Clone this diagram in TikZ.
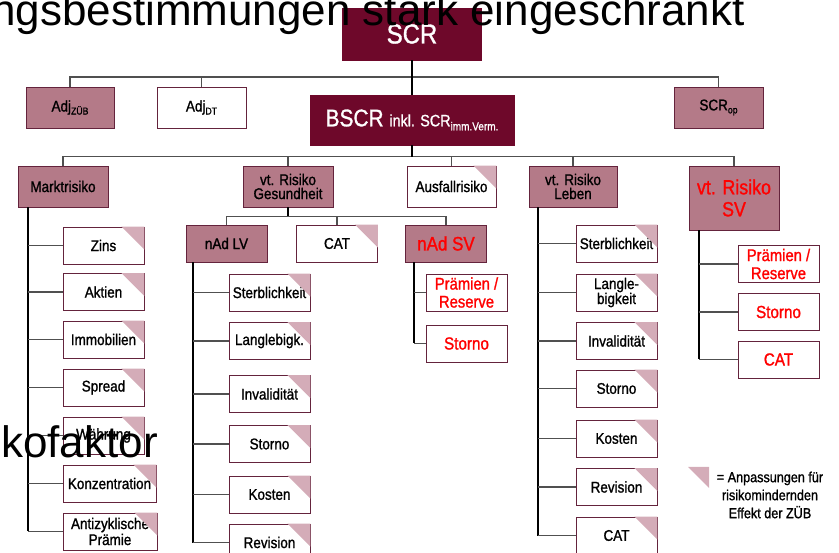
\documentclass[tikz,border=0pt]{standalone}
\usepackage{fontspec}
\setmainfont{Liberation Sans}[FakeStretch=0.87, FakeBold=1.2]
\newfontfamily\slidefont{Liberation Sans}

\definecolor{scrdark}{RGB}{110,8,42}
\definecolor{mauve}{RGB}{180,122,136}
\definecolor{cornerpink}{RGB}{212,172,184}
\definecolor{boxline}{RGB}{100,35,60}
\definecolor{linegray}{RGB}{80,80,80}

\tikzset{
  risk/.style={draw=boxline, line width=0.8pt, inner sep=0pt, align=center,
    minimum width=81pt, minimum height=37pt, font=\fontsize{15.5}{14}\selectfont},
  darkbox/.style={risk, fill=scrdark, draw=scrdark, text=white},
  mauvebox/.style={risk, fill=mauve},
  whitebox/.style={risk, fill=white},
  redtext/.style={text=red},
  trunk/.style={line width=1.8pt, black},
  branch/.style={line width=1.2pt, linegray},
  cornertri/.style={fill=cornerpink},
}

\begin{document}
\begin{tikzpicture}[x=1pt,y=1pt,yscale=-1]
\useasboundingbox (0,0) rectangle (839,553);
\clip (0,0) rectangle (839,553);

% top
\node[darkbox, minimum width=139pt, minimum height=52pt, font=\fontsize{27.5}{28}\selectfont] (scr) at (412,34) {SCR};
\node[mauvebox, minimum width=88pt, minimum height=41pt] (adjz) at (70,107.5) {Adj\raisebox{-3pt}{\fontsize{10}{10}\selectfont ZÜB}};
\node[whitebox, minimum width=89pt, minimum height=41pt] (adjdt) at (201.5,107.5) {Adj\raisebox{-3pt}{\fontsize{10}{10}\selectfont DT}};
\node[darkbox, minimum width=204pt, minimum height=50pt] (bscr) at (412,120) {\fontsize{24}{24}\selectfont BSCR \fontsize{16.5}{17}\selectfont inkl. SCR\raisebox{-4pt}{\fontsize{11.5}{12}\selectfont imm.Verm.}};
\node[mauvebox, minimum width=89pt, minimum height=41pt] (scrop) at (718.5,107.5) {SCR\raisebox{-3pt}{\fontsize{10}{10}\selectfont op}};

% risk modules
\node[mauvebox, minimum width=90pt, minimum height=41pt] (markt) at (63,186.5) {Marktrisiko};
\node[mauvebox, minimum width=90pt, minimum height=41pt] (gesund) at (288,186.5) {vt. Risiko\\Gesundheit};
\node[whitebox, minimum width=89pt, minimum height=41pt] (ausfall) at (451.5,186.5) {Ausfallrisiko};
\node[mauvebox, minimum width=88pt, minimum height=41pt] (leben) at (573,186.5) {vt. Risiko\\Leben};
\node[mauvebox, redtext, minimum width=90pt, minimum height=64pt, font=\fontsize{20.5}{22}\selectfont] (sv) at (734,198) {vt. Risiko\\SV};

% Gesundheit
\node[mauvebox] (nadlv) at (226.5,243.5) {nAd LV};
\node[whitebox] (catg) at (337,243.5) {CAT};
\node[mauvebox, redtext, font=\fontsize{19.5}{18}\selectfont] (nadsv) at (446,243.5) {nAd SV};

% Marktrisiko
\node[whitebox] (zins) at (103.5,245.5) {Zins};
\node[whitebox] (aktien) at (103.5,292) {Aktien};
\node[whitebox] (immo) at (103.5,339.5) {Immobilien};
\node[whitebox] (spread) at (103.5,387.5) {Spread};
\node[whitebox] (waehrung) at (103.5,435.5) {Währung};
\node[whitebox, minimum width=93pt] (konz) at (109.5,483.5) {Konzentration};
\node[whitebox, minimum width=94pt, font=\fontsize{15.5}{16}\selectfont] (antiz) at (110,531.5) {Antizyklische\\Prämie};

% nAd LV
\node[whitebox] (sterbg) at (269.5,292.5) {Sterblichkeit};
\node[whitebox] (langg) at (269.5,341) {Langlebigk.};
\node[whitebox] (invg) at (269.5,394) {Invalidität};
\node[whitebox] (stornog) at (269.5,444) {Storno};
\node[whitebox] (kosteng) at (269.5,494.5) {Kosten};
\node[whitebox] (revg) at (269.5,542.5) {Revision};

% nAd SV
\node[whitebox, redtext, font=\fontsize{17}{18}\selectfont] (praemg) at (466.5,292.5) {Prämien /\\Reserve};
\node[whitebox, redtext, font=\fontsize{17.5}{18}\selectfont] (stornons) at (466.5,343.5) {Storno};

% Leben
\node[whitebox] (sterbl) at (616.5,243.5) {Sterblichkeit};
\node[whitebox, font=\fontsize{15.5}{15}\selectfont] (langl) at (616.5,292.5) {Langle-\\bigkeit};
\node[whitebox] (invl) at (616.5,341) {Invalidität};
\node[whitebox] (stornol) at (616.5,388.5) {Storno};
\node[whitebox] (kostenl) at (616.5,438.5) {Kosten};
\node[whitebox] (revl) at (616.5,487) {Revision};
\node[whitebox] (catl) at (616.5,535.5) {CAT};

% SV
\node[whitebox, redtext, font=\fontsize{17}{18}\selectfont] (praemsv) at (778.5,264) {Prämien /\\Reserve};
\node[whitebox, redtext, font=\fontsize{17.5}{18}\selectfont] (stornosv) at (778.5,312) {Storno};
\node[whitebox, redtext, font=\fontsize{17.5}{18}\selectfont] (catsv) at (778.5,359.5) {CAT};

% corner marks
\foreach \c in {ausfall,catg,zins,aktien,immo,spread,waehrung,konz,antiz,sterbg,langg,invg,stornog,kosteng,revg,sterbl,langl,invl,stornol,kostenl,revl,catl}
  \fill[cornertri] (\c.north east) -- ++(-23,0) -- ++(23,23) -- cycle;

% connectors
\draw[branch] (adjz.north) -- ++(0,-9.5) -| (scrop.north);
\draw[branch] (adjdt.north) -- ++(0,-9.5);
\draw[trunk] (scr.south) -- (bscr.north);

\draw[branch] (markt.north) -- ++(0,-9) -| (sv.north);
\draw[trunk] (bscr.south) -- ++(0,12);
\draw[branch] (gesund.north) -- ++(0,-9);
\draw[branch] (ausfall.north) -- ++(0,-9);
\draw[branch] (leben.north) -- ++(0,-9);

\draw[trunk] (gesund.south) -- ++(0,10);
\draw[branch] (nadlv.north) -- ++(0,-8) -| (nadsv.north);
\draw[branch] (catg.north) -- ++(0,-8);

\coordinate (mk) at ([xshift=10pt]markt.south west);
\draw[trunk] (mk) -- (mk |- antiz.west);
\foreach \c in {zins,aktien,immo,spread,waehrung,konz,antiz}
  \draw[branch] (\c.west) -- (\c.west -| mk);

\coordinate (lv) at ([xshift=7pt]nadlv.south west);
\draw[trunk] (lv) -- (lv |- revg.west);
\foreach \c in {sterbg,langg,invg,stornog,kosteng,revg}
  \draw[branch] (\c.west) -- (\c.west -| lv);

\coordinate (ns) at ([xshift=9pt]nadsv.south west);
\draw[trunk] (ns) -- (ns |- stornons.west);
\foreach \c in {praemg,stornons}
  \draw[branch] (\c.west) -- (\c.west -| ns);

\coordinate (lb) at ([xshift=9pt]leben.south west);
\draw[trunk] (lb) -- (lb |- catl.west);
\foreach \c in {sterbl,langl,invl,stornol,kostenl,revl,catl}
  \draw[branch] (\c.west) -- (\c.west -| lb);

\coordinate (sk) at ([xshift=10pt]sv.south west);
\draw[trunk] (sk) -- (sk |- catsv.west);
\foreach \c in {praemsv,stornosv,catsv}
  \draw[branch] (\c.west) -- (\c.west -| sk);

% legend
\fill[cornertri] (688,467) -- (709,467) -- (709,488) -- cycle;
\node[font=\fontsize{14.5}{18}\selectfont, align=center] (legend) at (770,495) {= Anpassungen für\\risikomindernden\\Effekt der ZÜB};

% overlaid slide texts
\node[anchor=base west, inner sep=0pt, font=\slidefont\fontsize{44}{44}\selectfont] (title) at (-9,26) {ngsbestimmungen stark eingeschränkt};
\node[anchor=base west, inner sep=0pt, font=\slidefont\fontsize{44}{44}\selectfont] (faktor) at (1,458) {kofaktor};

\end{tikzpicture}
\end{document}
